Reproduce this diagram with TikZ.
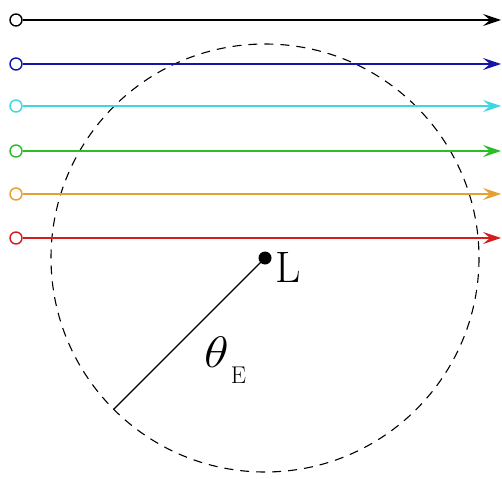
\documentclass[tikz,border=0pt]{standalone}
\usepackage{amsmath,amssymb}
\usepackage{graphicx}
\usepackage{tikz}
\usetikzlibrary{arrows.meta}
\usetikzlibrary{calc}

\definecolor{rayblue}{RGB}{20,20,170}
\definecolor{raycyan}{RGB}{60,215,225}
\definecolor{raygreen}{RGB}{40,190,40}
\definecolor{rayorange}{RGB}{230,160,50}
\definecolor{rayred}{RGB}{210,30,30}

\begin{document}
\begin{tikzpicture}[x=1pt,y=-1pt]
		\tikzset{src/.style={draw,circle,inner sep=0pt,minimum size=12pt,line width=1.4pt,fill=white},
		ray/.style={line width=1.3pt,-{Stealth[length=18pt,width=12pt,inset=7pt]}},
		big/.style={inner sep=0pt,anchor=base west,font=\fontsize{44}{48}\selectfont}}
		\useasboundingbox (0,0) rectangle (502,478);
		\node (L) at (265,258) [circle,inner sep=0pt,minimum size=13pt,fill=black] {};
		\node (Llab) at (275,282) [big] {L};
		\draw[line width=1.1pt,dash pattern=on 9pt off 7pt] (L.center) circle (214);
		\coordinate (R) at ($(L.center)+(135:214)$);
		\draw[line width=1.1pt] (L.center) -- (R);
		\node (theta) at (204,367) [big] {\scalebox{2.05}[1.77]{\Huge$\theta$}\hspace{2pt}\raisebox{-16pt}{\scalebox{0.55}{E}}};

		\node (1) at (16,20) [src,draw=black] {};
		\node (2) at (16,64) [src,draw=rayblue] {};
		\node (3) at (16,106) [src,draw=raycyan] {};
		\node (4) at (16,151) [src,draw=raygreen] {};
		\node (5) at (16,194) [src,draw=rayorange] {};
		\node (6) at (16,238) [src,draw=rayred] {};
		\coordinate (e1) at (501,20);
		\coordinate (e2) at (501,64);
		\coordinate (e3) at (501,106);
		\coordinate (e4) at (501,151);
		\coordinate (e5) at (501,194);
		\coordinate (e6) at (501,238);

		\path
		(1)  edge [ray, black] (e1)
		(2)  edge [ray, rayblue] (e2)
		(3)  edge [ray, raycyan] (e3)
		(4)  edge [ray, raygreen] (e4)
		(5)  edge [ray, rayorange] (e5)
		(6)  edge [ray, rayred] (e6);
	\end{tikzpicture}
\end{document}
